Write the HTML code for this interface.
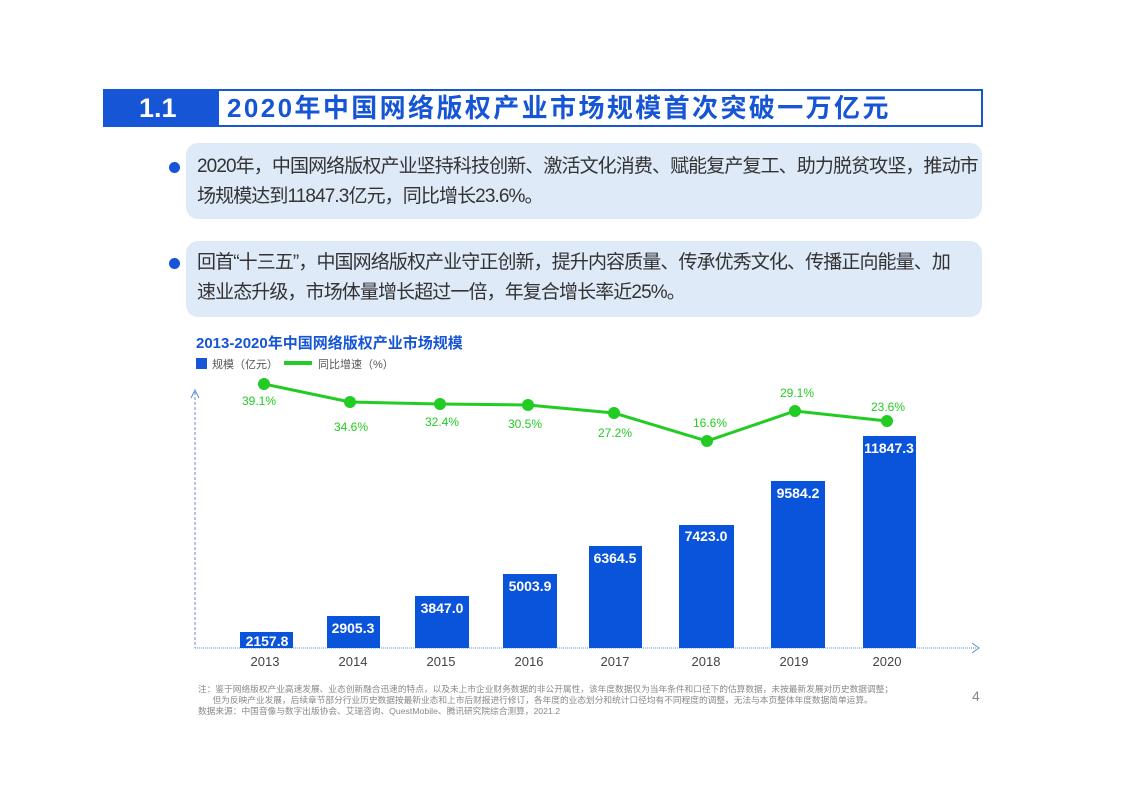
<!DOCTYPE html>
<html><head><meta charset="utf-8"><style>
body{margin:0;width:1123px;height:794px;background:#fff;position:relative;overflow:hidden;font-family:"Liberation Sans","Noto Sans CJK SC",sans-serif}
.a{position:absolute}
.box{position:absolute;left:186px;width:796px;height:76px;background:#dfeaf8;border-radius:12px}
.txt{position:absolute;left:197px;font-size:19px;color:#333;line-height:30px;letter-spacing:-0.9px;white-space:nowrap}
.dot{position:absolute;left:169px;width:11px;height:11px;border-radius:50%;background:#1655d6}
</style></head><body>
<div class="a" style="left:103px;top:89px;width:880px;height:38px;border:2px solid #1655d6;box-sizing:border-box;border-left:none"></div>
<div class="a" style="left:103px;top:89px;width:116px;height:38px;background:#1655d6;color:#fff;font-weight:bold;font-size:27px;line-height:38px;text-indent:36px">1.1</div>
<div class="a" style="left:227px;top:89px;line-height:38px;font-size:26px;font-weight:bold;color:#1655d6;letter-spacing:2.4px">2020年中国网络版权产业市场规模首次突破一万亿元</div>
<div class="box" style="top:143px"></div>
<div class="dot" style="top:162px"></div>
<div class="txt" style="top:152px">2020年，中国网络版权产业坚持科技创新、激活文化消费、赋能复产复工、助力脱贫攻坚，推动市<br>场规模达到11847.3亿元，同比增长23.6%。</div>
<div class="box" style="top:241px"></div>
<div class="dot" style="top:258px"></div>
<div class="txt" style="top:248px">回首“十三五”，中国网络版权产业守正创新，提升内容质量、传承优秀文化、传播正向能量、加<br>速业态升级，市场体量增长超过一倍，年复合增长率近25%。</div>
<div class="a" style="left:196px;top:332px;font-size:15px;font-weight:bold;color:#1655d6">2013-2020年中国网络版权产业市场规模</div>
<div class="a" style="left:196px;top:358px;width:11px;height:11px;background:#1655d6"></div>
<div class="a" style="left:212px;top:356px;font-size:11px;color:#555">规模（亿元）</div>
<div class="a" style="left:284px;top:361px;width:28px;height:4px;background:#22cc22"></div>
<div class="a" style="left:318px;top:356px;font-size:11px;color:#555">同比增速（%）</div>
<svg class="a" style="left:0;top:0" width="1123" height="794">
<line x1="195" y1="392" x2="195" y2="648" stroke="#5b8fd9" stroke-dasharray="3,2"/>
<polyline points="191,398 195,390 199,398" fill="none" stroke="#5b8fd9"/>
<line x1="195" y1="648" x2="976" y2="648" stroke="#5b8fd9" stroke-dasharray="1,1"/>
<polyline points="972,643 979,648 972,653" fill="none" stroke="#5b8fd9"/>
<g fill="#0a53db">
<rect x="240" y="632" width="53" height="16"/><rect x="327" y="616" width="53" height="32"/>
<rect x="415" y="596" width="54" height="52"/><rect x="503" y="574" width="54" height="74"/>
<rect x="589" y="546" width="53" height="102"/><rect x="679" y="525" width="55" height="123"/>
<rect x="771" y="481" width="54" height="167"/><rect x="863" y="436" width="53" height="212"/>
</g>
<g fill="#fff" font-size="14" font-weight="bold" text-anchor="middle">
<text x="267" y="646">2157.8</text><text x="353" y="633">2905.3</text><text x="442" y="613">3847.0</text>
<text x="530" y="591">5003.9</text><text x="615" y="563">6364.5</text><text x="706" y="541">7423.0</text>
<text x="798" y="498">9584.2</text><text x="889" y="453">11847.3</text>
</g>
<g fill="#444" font-size="13" text-anchor="middle">
<text x="265" y="666">2013</text><text x="353" y="666">2014</text><text x="441" y="666">2015</text><text x="529" y="666">2016</text>
<text x="615" y="666">2017</text><text x="706" y="666">2018</text><text x="794" y="666">2019</text><text x="887" y="666">2020</text>
</g>
<polyline points="264,384 350,402 440,404 528,405 614,413 707,441 795,411 887,421" fill="none" stroke="#22cc22" stroke-width="3"/>
<g fill="#22cc22"><circle cx="264" cy="384" r="6"/><circle cx="350" cy="402" r="6"/><circle cx="440" cy="404" r="6"/><circle cx="528" cy="405" r="6"/><circle cx="614" cy="413" r="6"/><circle cx="707" cy="441" r="6"/><circle cx="795" cy="411" r="6"/><circle cx="887" cy="421" r="6"/></g>
<g fill="#22cc22" font-size="12" text-anchor="middle">
<text x="259" y="405">39.1%</text><text x="351" y="431">34.6%</text><text x="442" y="426">32.4%</text><text x="525" y="428">30.5%</text>
<text x="615" y="437">27.2%</text><text x="710" y="427">16.6%</text><text x="797" y="397">29.1%</text><text x="888" y="411">23.6%</text>
</g>
</svg>
<div class="a" style="left:198px;top:684px;font-size:8.7px;color:#888;line-height:11px;white-space:nowrap">注：鉴于网络版权产业高速发展、业态创新融合迅速的特点，以及未上市企业财务数据的非公开属性，该年度数据仅为当年条件和口径下的估算数据，未按最新发展对历史数据调整；<br>&nbsp;&nbsp;&nbsp;&nbsp;&nbsp;&nbsp;但为反映产业发展，后续章节部分行业历史数据按最新业态和上市后财报进行修订，各年度的业态划分和统计口径均有不同程度的调整，无法与本页整体年度数据简单运算。<br>数据来源：中国音像与数字出版协会、艾瑞咨询、QuestMobile、腾讯研究院综合测算，2021.2</div>
<div class="a" style="left:972px;top:688px;font-size:14px;color:#888">4</div>
</body></html>
